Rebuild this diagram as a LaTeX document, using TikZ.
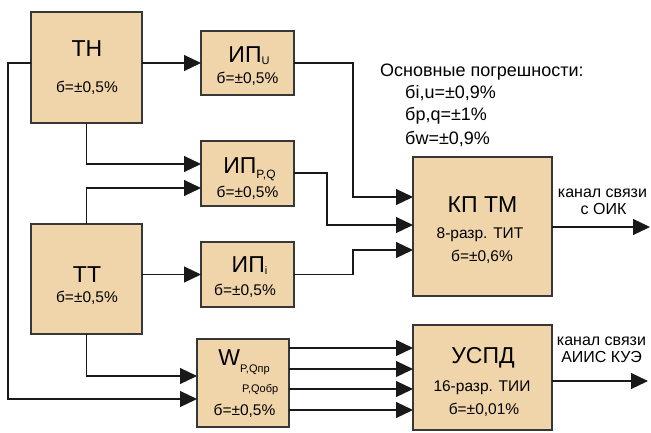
\documentclass[tikz,border=0pt]{standalone}
\usepackage{fontspec}
\setmainfont{Liberation Sans}
\usetikzlibrary{arrows.meta,calc}
\definecolor{boxfill}{RGB}{240,212,170}
\definecolor{edgecol}{RGB}{55,55,55}
\newcommand{\fsz}[1]{\fontsize{#1}{#1}\selectfont}
\begin{document}
\begin{tikzpicture}[x=1pt,y=-1pt,
 blk/.style={draw=edgecol,line width=1.3pt,fill=boxfill,inner sep=0pt,outer sep=0pt},
 conn/.style={draw=black!90,line width=1.2pt},
 arr/.style={conn,-{Triangle[length=17pt,width=16pt]}},
 big/.style={inner sep=0pt,anchor=base,font=\fsz{23}},
 val/.style={inner sep=0pt,anchor=base,font=\fsz{15.5}},
 lbl/.style={inner sep=0pt,anchor=base,font=\fsz{16}},
 note/.style={inner sep=0pt,anchor=base west,font=\fsz{18}}]
\useasboundingbox (0,0) rectangle (651,432);
% boxes
\node[blk,minimum width=111pt,minimum height=111pt] (TH) at (86.5,67.5) {};
\node[blk,minimum width=93pt,minimum height=64pt] (IPU) at (247.5,63) {};
\node[blk,minimum width=93pt,minimum height=65pt] (IPPQ) at (247.5,173.5) {};
\node[blk,minimum width=111pt,minimum height=110pt] (TT) at (86.5,279) {};
\node[blk,minimum width=93pt,minimum height=65pt] (IPI) at (247.5,274.5) {};
\node[blk,minimum width=92pt,minimum height=88pt] (W) at (243,383) {};
\node[blk,minimum width=139pt,minimum height=139pt] (KP) at (482.5,226.5) {};
\node[blk,minimum width=139pt,minimum height=105pt] (USPD) at (482.5,377.5) {};
% coordinates of entry points
\coordinate (PQin1) at (201,164);
\coordinate (PQin2) at (201,188);
\coordinate (Win1) at (197,376);
\coordinate (Win2) at (197,399);
\coordinate (KPin1) at (413,197);
\coordinate (KPin2) at (413,225);
\coordinate (KPin3) at (413,250);
\coordinate (KPout) at (650,227);
\coordinate (USout) at (648,381);
% connectors
\draw[arr] (TH.east |- IPU.west) -- (IPU.west);
\draw[arr] (TH.west |- IPU.west) -- (8,63) |- (Win2);
\draw[arr] (TH.south) |- (PQin1);
\draw[arr] (TT.north) |- (PQin2);
\draw[arr] (TT.east |- IPI.west) -- (IPI.west);
\draw[arr] (TT.south) |- (Win1);
\draw[arr] (IPU.east) -- (353,63) |- (KPin1);
\draw[arr] (IPPQ.east |- 0,173) -- (327,173) |- (KPin2);
\draw[arr] (IPI.east) -- (353,274.5) |- (KPin3);
\draw[arr] (KP.east |- KPout) -- (KPout);
\foreach \yy/\nm in {348/a,369/b,389/c,410/d}{
  \coordinate (Wo\nm) at (W.east |- 0,\yy);
  \coordinate (Ui\nm) at (USPD.west |- 0,\yy);
  \draw[arr] (Wo\nm) -- (Ui\nm);
}
\draw[arr] (USPD.east |- USout) -- (USout);
% texts
\node[big] (tTH) at (87,56) {ТН};
\node[val] (vTH) at (87,92) {б=±0,5\%};
\node[big] (tIPU) at (249,62) {ИП\raisebox{-2pt}{\fsz{11}U}};
\node[val] (vIPU) at (247.5,83) {б=±0,5\%};
\node[big] (tIPPQ) at (249.5,173) {ИП\raisebox{-5pt}{\fsz{12}P,Q}};
\node[val] (vIPPQ) at (247.5,197) {б=±0,5\%};
\node[big] (tTT) at (87,282) {ТТ};
\node[val] (vTT) at (87,302) {б=±0,5\%};
\node[big] (tIPI) at (249.5,272) {ИП\raisebox{-2pt}{\fsz{11}i}};
\node[val] (vIPI) at (245,295) {б=±0,5\%};
\node[big] (tW) at (244,365) {W\raisebox{-7pt}{\fsz{11}P,Qпр}};
\node[inner sep=0pt,anchor=base west,font=\fsz{11}] (tW2) at (242,392) {P,Qобр};
\node[val] (vW) at (244.5,415) {б=±0,5\%};
\node[big] (tKP) at (482.5,212) {КП ТМ};
\node[val] (tKP2) at (480,238) {8-разр. ТИТ};
\node[val] (vKP) at (482,261) {б=±0,6\%};
\node[big] (tUS) at (483,363) {УСПД};
\node[val] (tUS2) at (482,391) {16-разр. ТИИ};
\node[val] (vUS) at (484,414) {б=±0,01\%};
\node[lbl] (l1) at (602.5,197) {канал связи};
\node[lbl] (l2) at (603.5,214) {с ОИК};
\node[lbl] (l3) at (601.5,345) {канал связи};
\node[lbl] (l4) at (601.5,362) {АИИС КУЭ};
\node[note] (n0) at (380,76) {Основные погрешности:};
\node[note] (n1) at (405,98) {бi,u=±0,9\%};
\node[note] (n2) at (405,120.5) {бp,q=±1\%};
\node[note] (n3) at (405,144) {бw=±0,9\%};
\end{tikzpicture}
\end{document}
